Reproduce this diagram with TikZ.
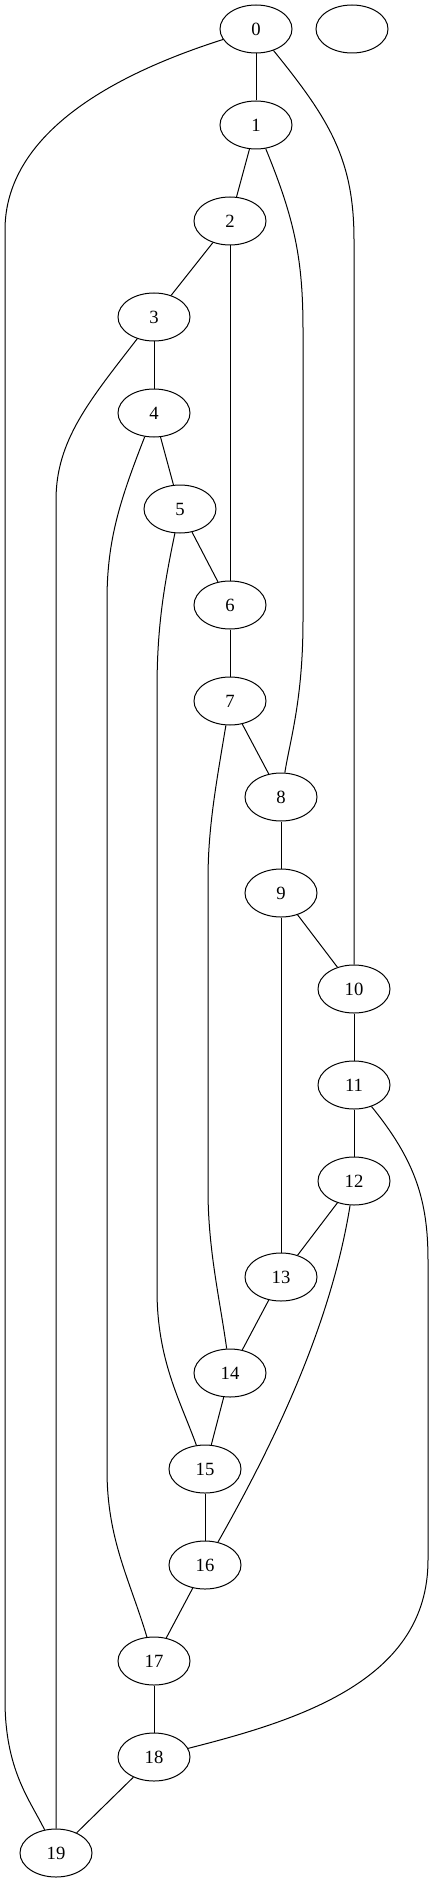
\documentclass[tikz,border=0pt]{standalone}
\usepackage{fontspec}
\setmainfont{Liberation Serif}
\usepackage{tikz}
\usetikzlibrary{shapes.geometric,positioning,calc}

\tikzset{
    vtx/.style={draw, ellipse, minimum width=54pt, minimum height=36pt, inner sep=0pt, font=\fontsize{14}{16}\selectfont},
    edge/.style={draw, line width=0.75pt}
}

\begin{document}
\begin{tikzpicture}[x=0.75pt, y=-0.75pt, line width=0.75pt]
    \useasboundingbox (0,0) rectangle (433,1883);

    % Vertices
    \node[vtx] (n0) at (256,29) {0}; \node[vtx] (blank) at (352,29) {};
    \node[vtx] (n1) at (256,125) {1};
    \node[vtx] (n2) at (230,221) {2};
    \node[vtx] (n3) at (154,317) {3};
    \node[vtx] (n4) at (154,413) {4};
    \node[vtx] (n5) at (180,509) {5};
    \node[vtx] (n6) at (230,605) {6};
    \node[vtx] (n7) at (230,701) {7};
    \node[vtx] (n8) at (281,797) {8};
    \node[vtx] (n9) at (281,893) {9};
    \node[vtx] (n10) at (354,989) {10};
    \node[vtx] (n11) at (354,1085) {11};
    \node[vtx] (n12) at (354,1181) {12};
    \node[vtx] (n13) at (281,1277) {13};
    \node[vtx] (n14) at (230,1373) {14};
    \node[vtx] (n15) at (205,1469) {15};
    \node[vtx] (n16) at (205,1565) {16};
    \node[vtx] (n17) at (154,1661) {17};
    \node[vtx] (n18) at (154,1757) {18};
    \node[vtx] (n19) at (56,1853) {19};

    % Short edges
    \draw[edge] (n0) -- (n1); \draw[edge] (n1) -- (n2);
    \draw[edge] (n2) -- (n3); \draw[edge] (n2) -- (n6);
    \draw[edge] (n3) -- (n4); \draw[edge] (n4) -- (n5);
    \draw[edge] (n5) -- (n6); \draw[edge] (n6) -- (n7);
    \draw[edge] (n7) -- (n8); \draw[edge] (n8) -- (n9);
    \draw[edge] (n9) -- (n10); \draw[edge] (n9) -- (n13);
    \draw[edge] (n10) -- (n11); \draw[edge] (n11) -- (n12);
    \draw[edge] (n12) -- (n13); \draw[edge] (n13) -- (n14);
    \draw[edge] (n14) -- (n15); \draw[edge] (n15) -- (n16);
    \draw[edge] (n16) -- (n17); \draw[edge] (n17) -- (n18);
    \draw[edge] (n18) -- (n19);

    % Long edges
    \draw[edge] (n0) .. controls (80,85) and (5,150) .. (5,230) -- (5,1700) .. controls (5,1770) and (30,1800) .. (n19);
    \draw[edge] (n0) .. controls (330,120) and (354,160) .. (354,240) -- (n10);
    \draw[edge] (n1) .. controls (295,220) and (303,260) .. (303,330) -- (303,620) .. controls (303,700) and (290,740) .. (n8);
    \draw[edge] (n3) .. controls (90,400) and (56,440) .. (56,500) -- (n19);
    \draw[edge] (n4) .. controls (120,500) and (107,540) .. (107,600) -- (107,1470) .. controls (107,1540) and (130,1580) .. (n17);
    \draw[edge] (n5) .. controls (163,590) and (157,630) .. (157,690) -- (157,1290) .. controls (157,1360) and (180,1400) .. (n15);
    \draw[edge] (n7) .. controls (215,790) and (208,830) .. (208,880) -- (208,1190) .. controls (208,1250) and (220,1300) .. (n14);
    \draw[edge] (n11) .. controls (415,1160) and (428,1200) .. (428,1260) -- (428,1560) .. controls (428,1680) and (300,1720) .. (n18);
    \draw[edge] (n12) .. controls (330,1330) and (270,1450) .. (n16);

\end{tikzpicture}
\end{document}
